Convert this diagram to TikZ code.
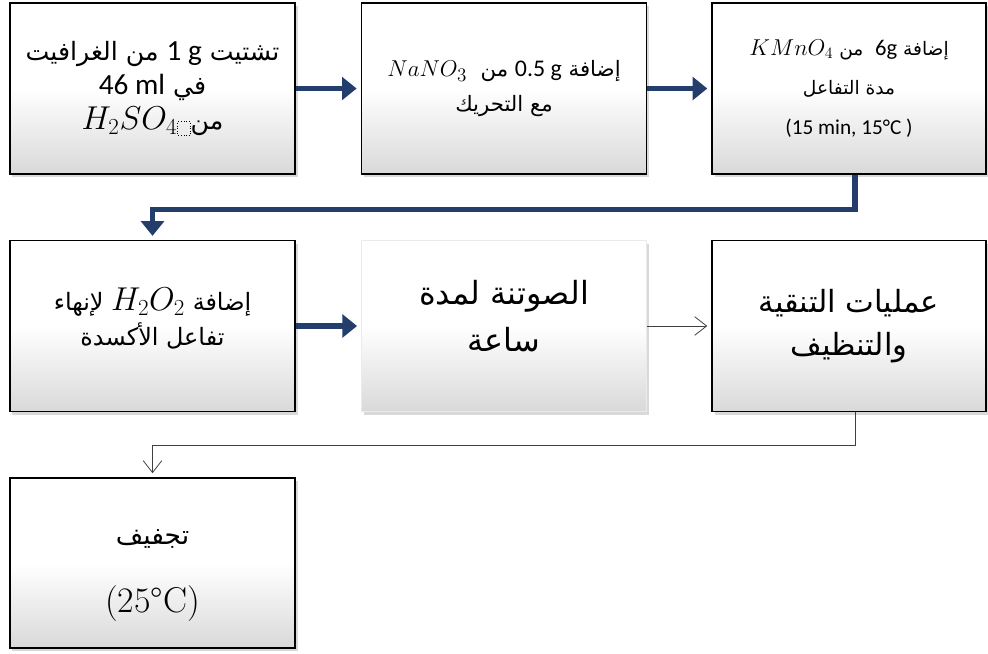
\documentclass[tikz,border=0pt]{standalone}
\usepackage{fontspec}
\usepackage{xcolor}
\usepackage{tikz}
\usepackage{amsmath}
\TeXXeTstate=1
\newfontfamily\arabicfont[Script=Arabic]{DejaVu Sans}
\newfontfamily\latinfont{Carlito}
\definecolor{flownavy}{RGB}{36, 62, 108}
\usetikzlibrary{shapes, arrows.meta, positioning, shadows, calc}
% dotted placeholder square after H2SO4
\newcommand{\dotrule}{\hbox to 10pt{\xleaders\hbox to 1.8pt{\hss\vrule width 0.6pt height 0.6pt\hss}\hfil}}
\newcommand{\dotpost}{\vbox to 10pt{\xleaders\vbox to 1.8pt{\vss\hrule width 0.6pt height 0.6pt\vss}\vfil}}
\newcommand{\placebox}{\raisebox{-5pt}{\vbox{\offinterlineskip\hbox{\dotrule}\hbox to 10pt{\dotpost\hfil\dotpost}\hbox{\dotrule}}}}

\begin{document}
\begin{tikzpicture}[
    stepbox/.style={rectangle, draw=black, line width=1.1pt, top color=white, bottom color=black!15, middle color=white, minimum width=7.55cm, minimum height=4.52cm, align=center, drop shadow={shadow xshift=2pt, shadow yshift=-2.5pt, opacity=0.3}},
    softbox/.style={stepbox, draw=black!8, line width=0.4pt},
    thickflow/.style={draw=flownavy, line width=4pt, -{Triangle[length=11pt, width=17pt]}, shorten >=3pt},
    thinflow/.style={draw=black!75, line width=0.6pt, -{Straight Barb[length=9pt, width=14pt]}, shorten >=3pt}
]
    \useasboundingbox (0, 0) rectangle (26.14, -17.277);

    \node[stepbox, font=\arabicfont\fontsize{19}{26}\selectfont] (graphite) at (4.035, -2.342)
        {\beginR تشتيت \beginL{\latinfont\fontsize{22}{26}\selectfont 1 g}\endL{} من الغرافيت\endR\\
         \beginR في \beginL{\latinfont\fontsize{22}{26}\selectfont 46 ml}\endL\endR\\
         \beginR من\beginL{\fontsize{23}{26}\selectfont$H_2SO_4$\placebox}\endL\endR};
    \node[stepbox, font=\arabicfont\fontsize{16}{26}\selectfont] (nitrate) at (13.335, -2.342)
        {\beginR إضافة \beginL{\latinfont\fontsize{18}{20}\selectfont 0.5 g}\endL{} من \ \beginL{\fontsize{19}{20}\selectfont$NaNO_3$}\endL\endR\\
         \beginR مع التحريك\endR};
    \node[stepbox, minimum width=7.25cm, font=\arabicfont\fontsize{14}{30}\selectfont] (permanganate) at (22.463, -2.342)
        {\beginR إضافة \beginL{\latinfont\fontsize{17}{20}\selectfont 6g}\endL{} \ من \beginL{\fontsize{17}{20}\selectfont$KMnO_4$}\endL\endR\\
         \beginR مدة التفاعل\endR\\
         {\latinfont\fontsize{16}{20}\selectfont (15 min, 15°C )}};

    \node[stepbox, font=\arabicfont\fontsize{18}{26}\selectfont] (peroxide) at (4.035, -8.625)
        {\beginR إضافة \beginL{\fontsize{24}{26}\selectfont$H_2O_2$}\endL{} لإنهاء\endR\\
         \beginR تفاعل الأكسدة\endR\rule[-14pt]{0pt}{1pt}};
    \node[softbox, font=\arabicfont\fontsize{24}{35}\selectfont] (sonication) at (13.335, -8.625)
        {\beginR الصوتنة لمدة\endR\\ \beginR ساعة\endR\rule[-15pt]{0pt}{1pt}};
    \node[stepbox, minimum width=7.25cm, font=\arabicfont\fontsize{23}{32}\selectfont] (washing) at (22.463, -8.625)
        {\beginR عمليات التنقية\endR\\ \beginR والتنظيف\endR};

    \node[stepbox, minimum height=4.5cm, font=\arabicfont\fontsize{20}{26}\selectfont] (drying) at (4.035, -14.896)
        {\rule{0pt}{30pt}\beginR تجفيف\endR\\[25pt] {\rmfamily\fontsize{27}{30}\selectfont (25°C)}};

    \draw[thickflow] (graphite) -- (nitrate);
    \draw[thickflow] (nitrate) -- (permanganate);
    \draw[thickflow] ([xshift=0.16cm]permanganate.south) -- ++(0, -0.93) -| (peroxide.north);
    \draw[thickflow] (peroxide) -- (sonication);
    \draw[thinflow] (sonication) -- (washing);
    \draw[thinflow] ([xshift=0.16cm]washing.south) -- ++(0, -0.87) -| (drying.north);
\end{tikzpicture}
\end{document}
